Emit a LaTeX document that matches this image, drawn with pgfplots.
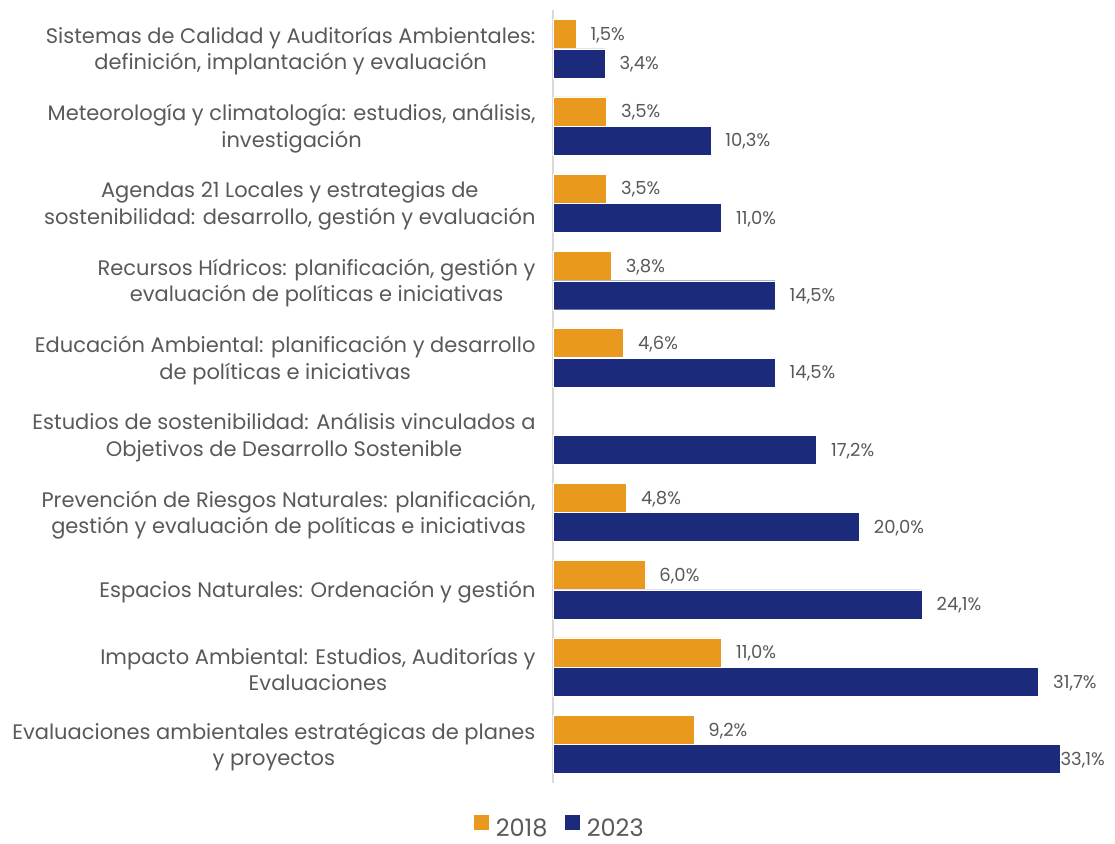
\documentclass[border=0pt]{standalone}
\usepackage{pgfplots}
\pgfplotsset{compat=1.18}
\usepackage{fontspec}
\setmainfont{Poppins}
\definecolor{orangeA}{RGB}{232,153,30}
\definecolor{navyA}{RGB}{27,42,122}
\definecolor{txt}{RGB}{89,89,89}
\begin{document}
\begin{tikzpicture}
\useasboundingbox (0,0) rectangle (1115pt,843pt);
\begin{axis}[
  at={(553pt,60pt)}, anchor=south west,
  scale only axis, width=551.5pt, height=773pt,
  xbar, xmin=0, xmax=36,
  ymin=-0.5, ymax=9.5, y dir=reverse,
  axis x line=none, axis y line*=left,
  y axis line style={draw=black!15, line width=1.2pt},
  xtick=\empty,
  ytick={0,...,9}, major tick length=0,
  yticklabels={
    {Sistemas de Calidad y Auditorías Ambientales:\\definición, implantación y evaluación},
    {Meteorología y climatología: estudios, análisis,\\investigación},
    {Agendas 21 Locales y estrategias de\\sostenibilidad: desarrollo, gestión y evaluación},
    {Recursos Hídricos: planificación, gestión y\\evaluación de políticas e iniciativas},
    {Educación Ambiental: planificación y desarrollo\\de políticas e iniciativas},
    {Estudios de sostenibilidad: Análisis vinculados a\\Objetivos de Desarrollo Sostenible},
    {Prevención de Riesgos Naturales: planificación,\\gestión y evaluación de políticas e iniciativas},
    {Espacios Naturales: Ordenación y gestión},
    {Impacto Ambiental: Estudios, Auditorías y\\Evaluaciones},
    {Evaluaciones ambientales estratégicas de planes\\y proyectos}
  },
  yticklabel style={align=center, font=\fontsize{21}{26.5}\selectfont, text=txt, xshift=-14pt, yshift=-2.5pt},
  bar width=0.375,
  visualization depends on={x \as \rawx},
  nodes near coords={\pgfmathprintnumber[fixed,fixed zerofill,precision=1,use comma,assume math mode=true]{\pgfplotspointmeta}\%},
  nodes near coords style={font=\fontsize{18}{18}\selectfont, text=txt, anchor=west, yshift=-1pt, xshift={ifthenelse(\rawx>33,-3,11)}},
  legend columns=2,
  legend style={at={(0.0127,-0.058)}, anchor=center, draw=none, fill=none,
    font=\fontsize{24}{24}\selectfont, text=txt,
    /tikz/every odd column/.append style={column sep=5pt},
    /tikz/every even column/.append style={column sep=16pt}},
]
\addplot[fill=orangeA, draw=white, line width=0.4pt, bar shift=-0.19,
  legend image code/.code={\fill[orangeA] (0pt,-1pt) rectangle (14pt,13pt);}]
  coordinates {(1.5,0) (3.5,1) (3.5,2) (3.8,3) (4.6,4) (4.8,6) (6.0,7) (11.0,8) (9.2,9)};
\addplot[fill=navyA, draw=white, line width=0.4pt, bar shift=0.19,
  legend image code/.code={\fill[navyA] (0pt,-1pt) rectangle (14pt,13pt);}]
  coordinates {(3.4,0) (10.3,1) (11.0,2) (14.5,3) (14.5,4) (17.2,5) (20.0,6) (24.1,7) (31.7,8) (33.1,9)};
\legend{2018,2023}
\end{axis}
\end{tikzpicture}
\end{document}
